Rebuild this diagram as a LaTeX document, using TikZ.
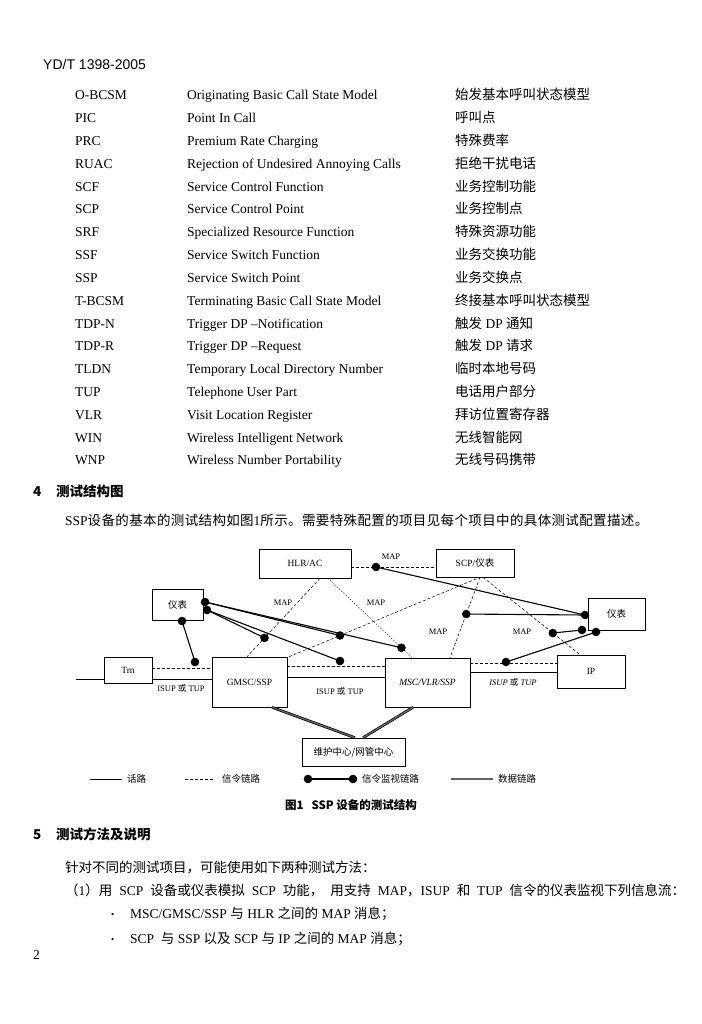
\documentclass[tikz,border=0pt]{standalone}
\usepackage{fontspec}
\setmainfont{Liberation Serif}
\setsansfont{Liberation Sans}
\newfontfamily\cjk{Noto Sans CJK SC}
\newfontfamily\cjkw[LetterSpace=2.7]{Noto Sans CJK SC}
\usetikzlibrary{calc}
\newcommand\zh[1]{{\cjk #1}}
\newcommand\zhw[1]{{\cjkw #1}}
\newcommand\abbrrow[4]{%
  \node[txt] (a#1) at (75,{100+22.8*#1}) {#2};
  \node[txt] (b#1) at (187,{100+22.8*#1}) {#3};
  \node[txt] (c#1) at (455,{100+22.8*#1}) {#4};}
\newcommand\dotat[1]{\fill (#1) circle (4.3pt);}
\newcommand\smallbullet{{\fontsize{9}{9}\selectfont\textbullet}}
\begin{document}
\begin{tikzpicture}[x=1pt,y=-1pt,
  txt/.style={anchor=base west, inner sep=0pt, font=\fontsize{13.5}{16}\selectfont},
  head/.style={anchor=base west, inner sep=0pt, font=\cjk\bfseries\fontsize{13.5}{16}\selectfont},
  box/.style={draw, line width=0.6pt, inner sep=0pt, font=\fontsize{9.5}{11}\selectfont},
  sig/.style={dash pattern=on 3pt off 2pt, line width=0.5pt},
  sigthin/.style={dash pattern=on 1.5pt off 1.5pt, line width=0.35pt},
  spch/.style={line width=0.6pt},
  mon/.style={line width=1.1pt},
  data/.style={double=black!60, double distance=1.3pt, line width=0.7pt},
  dlbl/.style={inner sep=0pt, font=\fontsize{8.5}{10}\selectfont},
  lgtxt/.style={anchor=west, inner sep=0pt, font=\cjk\fontsize{9.5}{11}\selectfont}]
\useasboundingbox (0,0) rectangle (701,1024);
\fill[white] (0,0) rectangle (701,1024);

% ---------- page header ----------
\node[anchor=base west, inner sep=0pt, font=\sffamily\fontsize{14}{16}\selectfont] (hdr) at (43,70) {YD/T 1398-2005};

% ---------- abbreviation table ----------
\abbrrow{0}{O-BCSM}{Originating Basic Call State Model}{\zh{始发基本呼叫状态模型}}
\abbrrow{1}{PIC}{Point In Call}{\zh{呼叫点}}
\abbrrow{2}{PRC}{Premium Rate Charging}{\zh{特殊费率}}
\abbrrow{3}{RUAC}{Rejection of Undesired Annoying Calls}{\zh{拒绝干扰电话}}
\abbrrow{4}{SCF}{Service Control Function}{\zh{业务控制功能}}
\abbrrow{5}{SCP}{Service Control Point}{\zh{业务控制点}}
\abbrrow{6}{SRF}{Specialized Resource Function}{\zh{特殊资源功能}}
\abbrrow{7}{SSF}{Service Switch Function}{\zh{业务交换功能}}
\abbrrow{8}{SSP}{Service Switch Point}{\zh{业务交换点}}
\abbrrow{9}{T-BCSM}{Terminating Basic Call State Model}{\zh{终接基本呼叫状态模型}}
\abbrrow{10}{TDP-N}{Trigger DP --Notification}{\zh{触发} DP \zh{通知}}
\abbrrow{11}{TDP-R}{Trigger DP --Request}{\zh{触发} DP \zh{请求}}
\abbrrow{12}{TLDN}{Temporary Local Directory Number}{\zh{临时本地号码}}
\abbrrow{13}{TUP}{Telephone User Part}{\zh{电话用户部分}}
\abbrrow{14}{VLR}{Visit Location Register}{\zh{拜访位置寄存器}}
\abbrrow{15}{WIN}{Wireless Intelligent Network}{\zh{无线智能网}}
\abbrrow{16}{WNP}{Wireless Number Portability}{\zh{无线号码携带}}

% ---------- section 4 ----------
\node[head] (s4n) at (33,496) {4};
\node[head] (s4t) at (56,496) {测试结构图};
\node[txt] (p1) at (65,525) {SSP\zhw{设备的基本的测试结构如图}1\zhw{所示。需要特殊配置的项目见每个项目中的具体测试配置描述。}};

% ---------- diagram boxes ----------
\node[box, minimum width=92pt, minimum height=29pt] (hlr) at (305,563.5) {HLR/AC};
\node[box, minimum width=78pt, minimum height=28pt] (scp) at (475,563) {SCP/\zh{仪表}};
\node[box, minimum width=51pt, minimum height=31pt, font=\cjk\fontsize{9.5}{11}\selectfont] (mL) at (177.5,604.5) {仪表};
\node[box, minimum width=57pt, minimum height=32pt, font=\cjk\fontsize{9.5}{11}\selectfont] (mR) at (616.5,614) {仪表};
\node[box, minimum width=48pt, minimum height=26pt] (trn) at (128,670) {Trn};
\node[box, minimum width=75pt, minimum height=50pt] (gmsc) at (249.5,682) {GMSC/SSP};
\node[box, minimum width=85pt, minimum height=49pt, font=\itshape\fontsize{9.5}{11}\selectfont] (msc) at (427.5,682.5) {MSC/VLR/SSP};
\node[box, minimum width=68pt, minimum height=33pt] (ip) at (591,671.5) {IP};
\node[box, minimum width=103pt, minimum height=28pt, font=\cjk\fontsize{9.5}{11}\selectfont] (nm) at (353.5,752) {维护中心/网管中心};

% ---------- speech / signalling links ----------
\coordinate (L0) at (76,679);
\draw[spch] (L0) -- (L0 -| trn.west);
\draw[sig]  (trn.east |- 0,668) -- (gmsc.west |- 0,668);
\draw[spch] (trn.east |- 0,679) -- (gmsc.west |- 0,679);
\draw[sig]  (gmsc.east |- 0,666) -- (msc.west |- 0,666);
\draw[spch] (gmsc.east |- 0,677) -- (msc.west |- 0,677);
\draw[sig]  (msc.east |- 0,663) -- (ip.west |- 0,663);
\draw[spch] (msc.east |- 0,672) -- (ip.west |- 0,672);
\draw[sig]  (hlr.east |- 0,567) -- (scp.west |- 0,567);

\coordinate (h1) at (hlr.south -| 320,0);
\coordinate (g1) at (gmsc.north -| 247,0);
\coordinate (h2) at (hlr.south -| 328,0);
\coordinate (m1) at (msc.north -| 412,0);
\coordinate (g2) at (gmsc.north -| 289,0);
\coordinate (s1) at (scp.south -| 480,0);
\coordinate (m2) at (msc.north -| 450,0);
\coordinate (s2) at (scp.south -| 483,0);
\coordinate (i1) at (ip.north -| 580,0);
\draw[sig] (h1) -- (g1);
\draw[sigthin] (h2) -- (m1);
\draw[sig] (g2) -- (s1);
\draw[sig] (s1) -- (m2);
\draw[sig] (s2) -- (i1);

% ---------- data links ----------
\draw[data] (gmsc.south -| 272,0) -- (nm.north -| 355,0);
\draw[data] (msc.south -| 413,0) -- (nm.north -| 363,0);

% ---------- labels ----------
\node[dlbl] (map1) at (283,603) {MAP};
\node[dlbl] (map2) at (376,603) {MAP};
\node[dlbl] (map3) at (391,557) {MAP};
\node[dlbl] (map4) at (438,632) {MAP};
\node[dlbl] (map5) at (522,632) {MAP};
\node[dlbl] (isup1) at (181,688) {ISUP \zh{或} TUP};
\node[dlbl] (isup2) at (340,691) {ISUP \zh{或} TUP};
\node[dlbl] (isup3) at (513,682) {\itshape ISUP \zh{或} TUP};

% ---------- monitoring points ----------
\coordinate (dA) at ($(h1)!0.76!(g1)$);
\coordinate (dB) at ($(g2)!0.267!(s1)$);
\coordinate (dC) at (340,661);
\coordinate (dD) at ($(h2)!0.875!(m1)$);
\coordinate (dE) at ($(s1)!0.457!(m2)$);
\coordinate (dF) at (376,567);
\coordinate (dG) at ($(s2)!0.72!(i1)$);
\coordinate (dH) at (506,662);
\coordinate (dT) at (195,662);
\coordinate (mLb) at (182,621);
\coordinate (mLr1) at (205,602);
\coordinate (mLr2) at (207,610);
\coordinate (mRl) at (585,615);
\coordinate (mRb1) at (582,630);
\coordinate (mRb2) at (596,632);

\draw[mon] (mLb) -- (dT);
\draw[mon] (mLr1) -- (dD);
\draw[mon] (mLr1) -- (dB);
\draw[mon] (mLr2) -- (dC);
\draw[mon] (mLr2) -- (dA);
\draw[mon] (dF) -- (mRl);
\draw[mon] (dE) -- (mRl);
\draw[mon] (dG) -- (mRb1);
\draw[mon] (dH) -- (mRb2);
\foreach \p in {dA,dB,dC,dD,dE,dF,dG,dH,dT,mLb,mLr1,mLr2,mRl,mRb1,mRb2} {\dotat{\p}}

% ---------- legend ----------
\coordinate (lg1a) at (90,779);  \coordinate (lg1b) at (122,779);
\draw[spch] (lg1a) -- (lg1b);
\node[lgtxt] (lt1) at (127,779) {话路};
\coordinate (lg2a) at (185,779); \coordinate (lg2b) at (213,779);
\draw[sig] (lg2a) -- (lg2b);
\node[lgtxt] (lt2) at (222,779) {信令链路};
\coordinate (lg3a) at (308,779); \coordinate (lg3b) at (353,779);
\draw[mon] (lg3a) -- (lg3b);
\dotat{lg3a} \dotat{lg3b}
\node[lgtxt] (lt3) at (362,779) {信令监视链路};
\coordinate (lg4a) at (451,779); \coordinate (lg4b) at (493,779);
\draw[data] (lg4a) -- (lg4b);
\node[lgtxt] (lt4) at (498,779) {数据链路};

\node[inner sep=0pt, font=\cjk\bfseries\fontsize{11.5}{13}\selectfont] (cap) at (351,805) {图1\hspace{8pt}SSP 设备的测试结构};

% ---------- section 5 ----------
\node[head] (s5n) at (33,839) {5};
\node[head] (s5t) at (56,839) {测试方法及说明};
\node[txt] (p2) at (65,872) {\zh{针对不同的测试项目，可能使用如下两种测试方法：}};
\node[txt] (p3) at (65,895) {\makebox[620pt][s]{\zh{（}1\zh{）用} SCP \zh{设备或仪表模拟} SCP \zh{功能，} \zh{用支持} MAP\zh{，}ISUP \zh{和} TUP \zh{信令的仪表监视下列信息流：}}};
\node[txt] (b1) at (111,917) {\smallbullet};
\node[txt] (p4) at (130,918) {MSC/GMSC/SSP \zh{与} HLR \zh{之间的} MAP \zh{消息；}};
\node[txt] (b2) at (111,942) {\smallbullet};
\node[txt] (p5) at (130,943) {SCP \ \zh{与} SSP \zh{以及} SCP \zh{与} IP \zh{之间的} MAP \zh{消息；}};
\node[txt] (pg) at (33,959) {2};
\end{tikzpicture}
\end{document}
